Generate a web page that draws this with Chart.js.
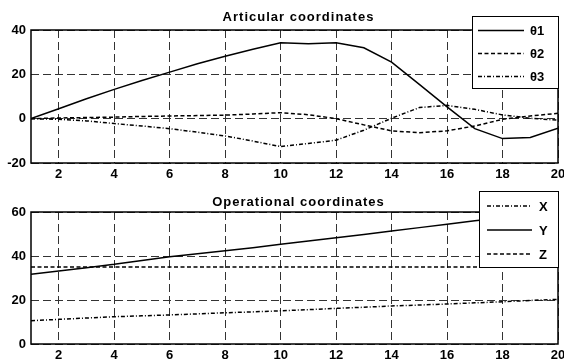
<!DOCTYPE html>
<html>
<head>
<meta charset="utf-8">
<script src="https://cdn.jsdelivr.net/npm/chart.js@4.4.1/dist/chart.umd.min.js"></script>
<style>
  html, body { margin: 0; padding: 0; background: #fff; }
  canvas { display: block; }
</style>
</head>
<body>
<canvas id="articular" width="564" height="180"></canvas>
<canvas id="operational" width="564" height="181"></canvas>
<script>
// sample index along the trajectory
var steps = [1, 2, 3, 4, 5, 6, 7, 8, 9, 10, 11, 12, 13, 14, 15, 16, 17, 18, 19, 20];

// joint angles
var theta1 = [0, 4.5, 9, 13.2, 17.2, 21, 24.8, 28.2, 31.3, 34.2, 33.8, 34.2, 32, 25.5, 15.5, 5.3, -4.5, -9, -8.5, -4.3];
var theta2 = [0, 0.3, 0.5, 0.7, 1, 1.2, 1.4, 1.6, 2.1, 2.7, 1.8, 0, -2.8, -5.5, -6.3, -5.5, -3.3, -0.3, 1.2, 2.4];
var theta3 = [0, -0.3, -1, -2.2, -3.3, -4.5, -6.1, -7.8, -10.1, -12.6, -11.2, -9.7, -5.2, 0.2, 5, 6, 4.2, 1.7, 0.2, -0.7];

// end effector position
var posX = [10.6, 11.2, 11.8, 12.4, 12.8, 13.2, 13.7, 14.2, 14.6, 15.1, 15.6, 16.2, 16.7, 17.3, 17.7, 18.2, 18.7, 19.2, 19.8, 20.3];
var posY = [31.7, 33.2, 34.7, 36.2, 38, 39.7, 41, 42.4, 43.8, 45.3, 46.8, 48.3, 49.8, 51.4, 52.9, 54.4, 56, 57.4, 58.8, 60.2];
var posZ = [35, 35, 35, 35, 35, 35, 35, 35, 35, 35, 35, 35, 35, 35, 35, 35, 35, 35, 35, 35];

var xTicks = [2, 4, 6, 8, 10, 12, 14, 16, 18, 20];
var articularTicks = [-20, 0, 20, 40];
var operationalTicks = [0, 20, 40, 60];

var SOLID = [];
var DASHED = [4, 2.5];
var DASHDOT = [4, 2, 1, 2];

Chart.defaults.font.family = '"Liberation Sans", Arial, sans-serif';
Chart.defaults.font.weight = 'bold';
Chart.defaults.font.size = 13;
Chart.defaults.color = '#000';

function points(values) {
  return steps.map(function (s, i) {
    return { x: s, y: values[i] };
  });
}

function makeSet(label, values, dash) {
  return {
    label: label,
    data: points(values),
    borderColor: '#000',
    borderWidth: 1.5,
    borderDash: dash,
    pointRadius: 0,
    tension: 0,
    fill: false
  };
}

function tickList(list) {
  return function (scale) {
    scale.ticks = list.map(function (v) { return { value: v }; });
  };
}

// box around the plot area, the title and a boxed legend
var framePlugin = {
  id: 'frame',
  afterDatasetsDraw: function (chart, args, opts) {
    var ctx = chart.ctx;
    var a = chart.chartArea;

    ctx.save();
    ctx.strokeStyle = '#000';
    ctx.lineWidth = 1.5;
    ctx.setLineDash([]);
    ctx.strokeRect(a.left, a.top, a.right - a.left, a.bottom - a.top);

    ctx.font = 'bold 13px "Liberation Sans", Arial, sans-serif';
    ctx.fillStyle = '#000';
    ctx.textAlign = 'center';
    ctx.textBaseline = 'alphabetic';
    ctx.letterSpacing = '1px';
    ctx.fillText(opts.title, (a.left + a.right) / 2 + 4, a.top - opts.titleGap);
    ctx.letterSpacing = '0px';

    var lg = opts.legend;
    ctx.fillStyle = '#fff';
    ctx.fillRect(lg.x, lg.y, lg.w, lg.h);
    ctx.lineWidth = 1;
    ctx.strokeRect(lg.x + 0.5, lg.y + 0.5, lg.w, lg.h);

    ctx.textAlign = 'left';
    ctx.textBaseline = 'middle';
    chart.data.datasets.forEach(function (ds, i) {
      var y = lg.y + lg.firstRow + i * lg.rowGap;
      ctx.strokeStyle = '#000';
      ctx.lineWidth = 1.5;
      ctx.setLineDash(ds.borderDash);
      ctx.beginPath();
      ctx.moveTo(lg.x + lg.lineStart, y);
      ctx.lineTo(lg.x + lg.lineEnd, y);
      ctx.stroke();
      ctx.setLineDash([]);
      ctx.fillStyle = '#000';
      ctx.fillText(ds.label, lg.x + lg.textStart, y + 1);
    });
    ctx.restore();
  }
};

function makeOptions(yMin, yMax, yTicks, topPad, xHeight, frame) {
  return {
    responsive: false,
    animation: false,
    layout: { padding: { top: topPad, right: 6, left: 0, bottom: 0 } },
    plugins: {
      legend: { display: false },
      tooltip: { enabled: false },
      frame: frame
    },
    scales: {
      x: {
        type: 'linear',
        min: 1,
        max: 20,
        afterBuildTicks: tickList(xTicks),
        afterFit: function (scale) {
          scale.height = xHeight;
          scale.paddingLeft = 0;
          scale.paddingRight = 0;
        },
        ticks: { padding: 4, maxRotation: 0, autoSkip: false },
        grid: { color: '#333', lineWidth: 1, drawTicks: false },
        border: { display: false, dash: [8, 4] }
      },
      y: {
        type: 'linear',
        min: yMin,
        max: yMax,
        afterBuildTicks: tickList(yTicks),
        afterFit: function (scale) {
          scale.width = 31;
          scale.paddingTop = 0;
          scale.paddingBottom = 0;
        },
        ticks: { padding: 5 },
        grid: { color: '#333', lineWidth: 1, drawTicks: false },
        border: { display: false, dash: [8, 4] }
      }
    }
  };
}

new Chart(document.getElementById('articular'), {
  type: 'line',
  data: {
    datasets: [
      makeSet('θ1', theta1, SOLID),
      makeSet('θ2', theta2, DASHED),
      makeSet('θ3', theta3, DASHDOT)
    ]
  },
  options: makeOptions(-20, 40, articularTicks, 30, 17, {
    title: 'Articular coordinates',
    titleGap: 9,
    legend: { x: 472, y: 16, w: 86, h: 72, firstRow: 14.5, rowGap: 23, lineStart: 6, lineEnd: 52, textStart: 58 }
  }),
  plugins: [framePlugin]
});

new Chart(document.getElementById('operational'), {
  type: 'line',
  data: {
    datasets: [
      makeSet('X', posX, DASHDOT),
      makeSet('Y', posY, SOLID),
      makeSet('Z', posZ, DASHED)
    ]
  },
  options: makeOptions(0, 60, operationalTicks, 32, 17, {
    title: 'Operational coordinates',
    titleGap: 6,
    legend: { x: 479, y: 11, w: 79, h: 76, firstRow: 15, rowGap: 24, lineStart: 8, lineEnd: 53, textStart: 60 }
  }),
  plugins: [framePlugin]
});
</script>
</body>
</html>
